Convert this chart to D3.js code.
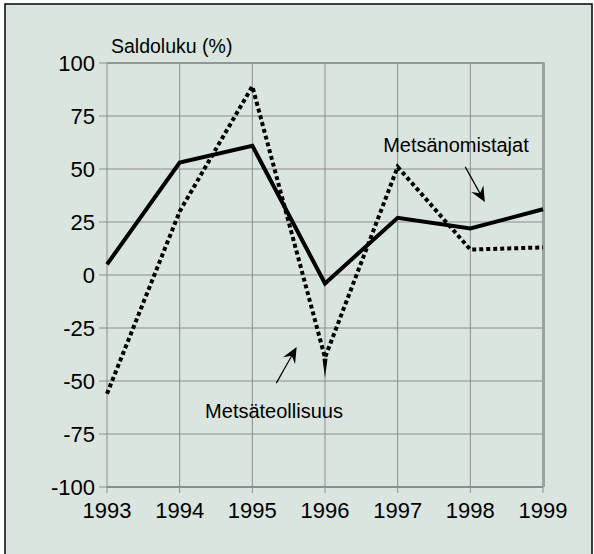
<!DOCTYPE html>
<html>
<head>
<meta charset="utf-8">
<script src="https://cdn.jsdelivr.net/npm/d3@7"></script>
<style>
  html, body { margin: 0; padding: 0; background: #ffffff; }
  svg { display: block; font-family: "Liberation Sans", Arial, sans-serif; }
</style>
</head>
<body>
<svg id="chart" width="594" height="554"></svg>
<script>
// data
var years = [1993, 1994, 1995, 1996, 1997, 1998, 1999];
var metsanomistajat = [5, 53, 61, -4, 27, 22, 31];
var metsateollisuus = [-56, 30, 89, -39, 51, 12, 13];
var yTicks = [-100, -75, -50, -25, 0, 25, 50, 75, 100];
var yLabel = "Saldoluku (%)";
var labelOmistajat = "Metsänomistajat";
var labelTeollisuus = "Metsäteollisuus";

var svg = d3.select("#chart");

var margins = { top: 63, bottom: 67, left: 107, right: 51 };
var width = 594, height = 554;

// panel background + frame
svg.append("rect")
    .attr("x", 5).attr("y", 4)
    .attr("width", 587).attr("height", 552)
    .attr("fill", "#dae5df")
    .attr("stroke", "#000").attr("stroke-width", 1.5);

var xScale = d3.scaleLinear()
    .domain([1993, 1999])
    .range([margins.left, width - margins.right]);
var yScale = d3.scaleLinear()
    .domain([-100, 100])
    .range([height - margins.bottom, margins.top]);

// grid
var grid = svg.append("g");
grid.selectAll(".hgrid").data(yTicks).enter().append("line")
    .attr("class", "hgrid")
    .attr("x1", xScale(1993) - 8).attr("x2", xScale(1999))
    .attr("y1", function(d) { return yScale(d); })
    .attr("y2", function(d) { return yScale(d); })
    .attr("stroke", "#8c8c8c").attr("stroke-width", 1);
grid.selectAll(".vgrid").data(years).enter().append("line")
    .attr("class", "vgrid")
    .attr("x1", function(d) { return xScale(d); })
    .attr("x2", function(d) { return xScale(d); })
    .attr("y1", yScale(100)).attr("y2", yScale(-100) + 6)
    .attr("stroke", "#8c8c8c").attr("stroke-width", 1);

// frame edges (top and right a bit heavier, bottom axis heavier)
svg.append("line")
    .attr("x1", xScale(1993)).attr("x2", xScale(1999) + 1.5)
    .attr("y1", yScale(100)).attr("y2", yScale(100))
    .attr("stroke", "#8f9894").attr("stroke-width", 2);
svg.append("line")
    .attr("x1", xScale(1999) + 0.5).attr("x2", xScale(1999) + 0.5)
    .attr("y1", yScale(100)).attr("y2", yScale(-100))
    .attr("stroke", "#9aa39f").attr("stroke-width", 3);
svg.append("line")
    .attr("x1", xScale(1993)).attr("x2", xScale(1999))
    .attr("y1", yScale(-100)).attr("y2", yScale(-100))
    .attr("stroke", "#8c8c8c").attr("stroke-width", 2);

// tick labels
svg.selectAll(".ylab").data(yTicks).enter().append("text")
    .attr("class", "ylab")
    .attr("x", xScale(1993) - 12)
    .attr("y", function(d) { return yScale(d) + 8; })
    .attr("text-anchor", "end")
    .style("font-size", "22px")
    .text(function(d) { return d; });
svg.selectAll(".xlab").data(years).enter().append("text")
    .attr("class", "xlab")
    .attr("x", function(d) { return xScale(d); })
    .attr("y", yScale(-100) + 31)
    .attr("text-anchor", "middle")
    .style("font-size", "22px")
    .text(function(d) { return d; });

svg.append("text")
    .attr("x", 111).attr("y", 53)
    .style("font-size", "19.5px")
    .text(yLabel);

var line = d3.line()
    .x(function(d, i) { return xScale(years[i]); })
    .y(function(d) { return yScale(d); });

svg.append("path")
    .datum(metsateollisuus)
    .attr("d", line)
    .attr("fill", "none")
    .attr("stroke", "#000").attr("stroke-width", 4)
    .attr("stroke-dasharray", "4,3");

svg.append("path")
    .datum(metsanomistajat)
    .attr("d", line)
    .attr("fill", "none")
    .attr("stroke", "#000").attr("stroke-width", 4)
    .attr("stroke-linejoin", "miter");

// annotations (in data coords)
svg.append("text")
    .attr("x", xScale(1996.8)).attr("y", yScale(58))
    .style("font-size", "20px")
    .text(labelOmistajat);
svg.append("text")
    .attr("x", xScale(1994.35)).attr("y", yScale(-67.5))
    .style("font-size", "20px")
    .text(labelTeollisuus);

function arrow(x0, y0, x1, y1) {
    var ax = xScale(x0), ay = yScale(y0), bx = xScale(x1), by = yScale(y1);
    var ang = Math.atan2(by - ay, bx - ax);
    var len = 17, half = 0.42;
    var g = svg.append("g");
    g.append("line")
        .attr("x1", ax).attr("y1", ay).attr("x2", bx - Math.cos(ang) * 8).attr("y2", by - Math.sin(ang) * 8)
        .attr("stroke", "#000").attr("stroke-width", 1.2);
    var p1 = [bx - len * Math.cos(ang - half), by - len * Math.sin(ang - half)];
    var p2 = [bx - len * Math.cos(ang + half), by - len * Math.sin(ang + half)];
    var mid = [bx - 10 * Math.cos(ang), by - 10 * Math.sin(ang)];
    g.append("path")
        .attr("d", "M" + bx + "," + by + "L" + p1 + "L" + mid + "L" + p2 + "Z")
        .attr("fill", "#000");
}
arrow(1997.93, 51, 1998.2, 34.4);
arrow(1995.33, -51, 1995.61, -34);

// thin spike under the 1996 low point
svg.append("path")
    .attr("d", "M" + (xScale(1996) - 2.5) + "," + yScale(-39.5) +
               "L" + (xScale(1996) + 2.5) + "," + yScale(-39.5) +
               "L" + xScale(1996) + "," + yScale(-48.5) + "Z")
    .attr("fill", "#000");
</script>
</body>
</html>
